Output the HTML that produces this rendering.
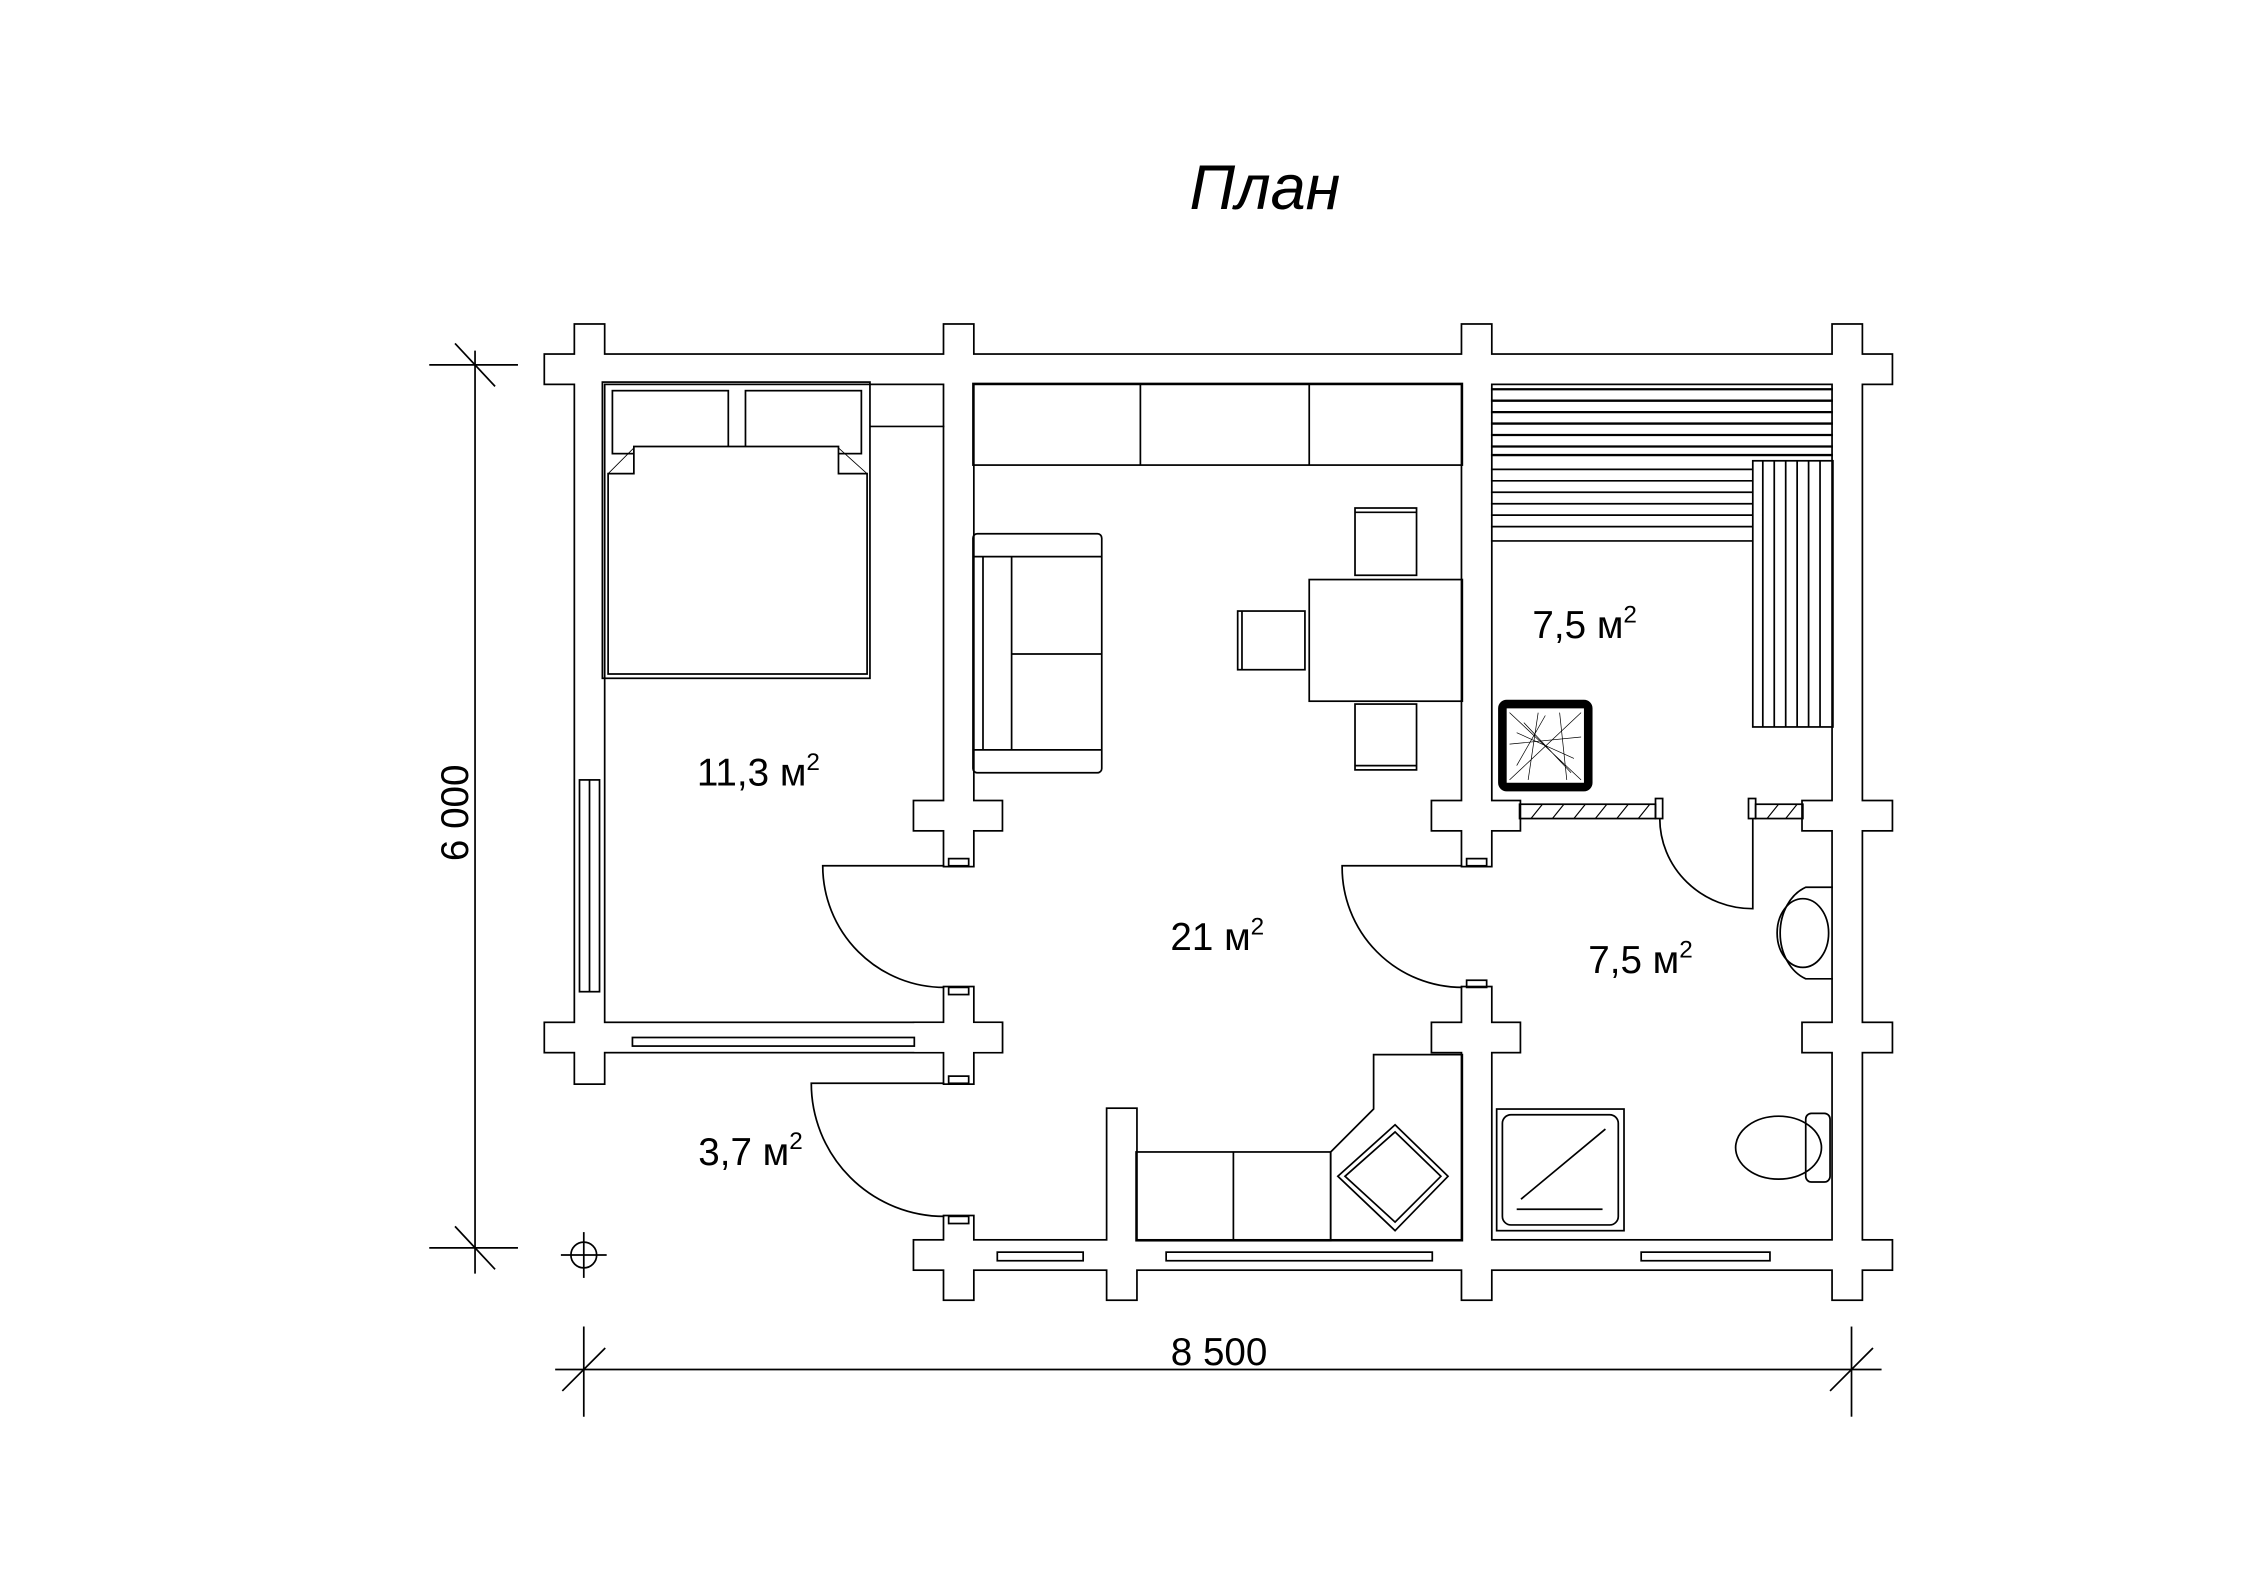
<!DOCTYPE html>
<html><head><meta charset="utf-8"><style>html,body{margin:0;padding:0;background:#fff}svg{display:block}</style></head>
<body>
<svg width="2245" height="1587" viewBox="0 0 1569 1109" preserveAspectRatio="none" xmlns="http://www.w3.org/2000/svg" font-family="Liberation Sans, sans-serif">
<rect width="1569" height="1109" fill="#fff"/>
<g id="walls">
<g fill="none" stroke="#000" stroke-width="2.4">
<rect x="381" y="248" width="941" height="20"/>
<rect x="402" y="227" width="20" height="530"/>
<rect x="381" y="715" width="319" height="20"/>
<rect x="660" y="227" width="20" height="378"/>
<rect x="639" y="560" width="61" height="20"/>
<rect x="660" y="690" width="20" height="67"/>
<rect x="639" y="715" width="61" height="20"/>
<rect x="660" y="850" width="20" height="58"/>
<rect x="639" y="867" width="683" height="20"/>
<rect x="774" y="775" width="20" height="133"/>
<rect x="1022" y="227" width="20" height="378"/>
<rect x="1001" y="560" width="61" height="20"/>
<rect x="1022" y="690" width="20" height="218"/>
<rect x="1001" y="715" width="61" height="20"/>
<rect x="1281" y="227" width="20" height="681"/>
<rect x="1260" y="560" width="62" height="20"/>
<rect x="1260" y="715" width="62" height="20"/>
</g>
<g fill="#fff">
<rect x="381" y="248" width="941" height="20"/>
<rect x="402" y="227" width="20" height="530"/>
<rect x="381" y="715" width="319" height="20"/>
<rect x="660" y="227" width="20" height="378"/>
<rect x="639" y="560" width="61" height="20"/>
<rect x="660" y="690" width="20" height="67"/>
<rect x="639" y="715" width="61" height="20"/>
<rect x="660" y="850" width="20" height="58"/>
<rect x="639" y="867" width="683" height="20"/>
<rect x="774" y="775" width="20" height="133"/>
<rect x="1022" y="227" width="20" height="378"/>
<rect x="1001" y="560" width="61" height="20"/>
<rect x="1022" y="690" width="20" height="218"/>
<rect x="1001" y="715" width="61" height="20"/>
<rect x="1281" y="227" width="20" height="681"/>
<rect x="1260" y="560" width="62" height="20"/>
<rect x="1260" y="715" width="62" height="20"/>
</g>
</g>
<g fill="none" stroke="#000" stroke-width="1.2">
<rect x="663" y="600" width="14" height="5"/><rect x="663" y="690" width="14" height="5"/>
<rect x="663" y="752" width="14" height="5"/><rect x="663" y="850" width="14" height="5"/>
<rect x="1025" y="600" width="14" height="5"/><rect x="1025" y="685" width="14" height="5"/>
<path d="M660 605 H575 A85 85 0 0 0 660 690"/>
<path d="M660 757 H567 A93 93 0 0 0 660 850"/>
<path d="M1022 605 H938 A84 84 0 0 0 1022 690"/>
<path d="M1225 572 V635 A65 63 0 0 1 1160 572"/>
<rect x="1062" y="562" width="95" height="10"/>
<rect x="1157" y="558" width="5" height="14"/>
<rect x="1222" y="558" width="5" height="14"/>
<rect x="1227" y="562" width="33" height="10"/>
<path d="M1070 572l8-10M1085 572l8-10M1100 572l8-10M1115 572l8-10M1130 572l8-10M1145 572l8-10M1235 572l8-10M1248 572l8-10" stroke-width="0.8"/>
<!-- bed -->
<rect x="421" y="267" width="187" height="207"/>
<rect x="428" y="273" width="81" height="44"/>
<rect x="521" y="273" width="81" height="44"/>
<path d="M443 312 H586 V331 H606 V471 H425 V331 H443 Z" fill="#fff"/>
<path d="M425 331 L443 313 M606 331 L586 313" stroke-width="0.6"/>
<path d="M608 298 H660"/>
<!-- kitchen cabinets -->
<rect x="680" y="268" width="342" height="57"/>
<line x1="797" y1="268" x2="797" y2="325"/><line x1="915" y1="268" x2="915" y2="325"/>
<rect x="680" y="373" width="90" height="167" rx="3"/>
<line x1="680" y1="389" x2="770" y2="389"/><line x1="680" y1="524" x2="770" y2="524"/>
<line x1="687" y1="389" x2="687" y2="524"/><line x1="707" y1="389" x2="707" y2="524"/>
<line x1="707" y1="457" x2="770" y2="457"/>
<rect x="915" y="405" width="107" height="85"/>
<rect x="947" y="355" width="43" height="47"/><line x1="947" y1="358" x2="990" y2="358"/>
<rect x="947" y="492" width="43" height="46"/><line x1="947" y1="535" x2="990" y2="535"/>
<rect x="865" y="427" width="47" height="41"/><line x1="868" y1="427" x2="868" y2="468"/>
<path d="M1042 272H1281M1042 280H1281M1042 288H1281M1042 296H1281M1042 304H1281M1042 312H1281M1042 318H1281" stroke-width="1.6"/>
<path d="M1042 328H1225M1042 336H1225M1042 344H1225M1042 352H1225M1042 360H1225M1042 368H1225M1042 378H1225"/>
<rect x="1225" y="322" width="56" height="186"/>
<path d="M1232 322V508M1240 322V508M1248 322V508M1256 322V508M1264 322V508M1272 322V508"/>
<rect x="1050" y="492" width="60" height="58" rx="3" stroke-width="6"/>
<path d="M1055 498 L1105 545 M1105 498 L1055 545 M1060 512 L1100 530 M1075 498 L1068 545 M1090 498 L1095 545 M1055 520 L1105 515 M1065 505 L1098 540 M1080 500 L1060 535" stroke-width="0.5"/>
<path d="M1281 620 H1262 A27 34 0 0 0 1262 684 H1281"/>
<ellipse cx="1260" cy="652" rx="18" ry="24"/>
<ellipse cx="1243" cy="802" rx="30" ry="22"/>
<rect x="1262" y="778" width="17" height="48" rx="4"/>
<rect x="1046" y="775" width="89" height="85"/>
<rect x="1050" y="779" width="81" height="77" rx="6"/>
<line x1="1063" y1="838" x2="1122" y2="789"/><line x1="1060" y1="845" x2="1120" y2="845"/>
<rect x="794" y="805" width="136" height="62"/><line x1="862" y1="805" x2="862" y2="867"/>
<path d="M930 805 L960 775 V737 H1022 V867 H930 Z"/>
<path d="M935 822 L975 786 L1012 822 L975 860 Z"/>
<path d="M940 822 L975 791 L1007 822 L975 854 Z"/>
<rect x="405" y="545" width="14" height="148"/><line x1="412" y1="545" x2="412" y2="693"/>
<rect x="442" y="725" width="197" height="6"/>
<rect x="697" y="875" width="60" height="6"/>
<rect x="815" y="875" width="186" height="6"/>
<rect x="1147" y="875" width="90" height="6"/>
<line x1="332" y1="245" x2="332" y2="890"/>
<line x1="300" y1="255" x2="362" y2="255"/><line x1="300" y1="872" x2="362" y2="872"/>
<line x1="318" y1="240" x2="346" y2="270"/><line x1="318" y1="857" x2="346" y2="887"/>
<line x1="388" y1="957" x2="1315" y2="957"/>
<line x1="408" y1="927" x2="408" y2="990"/><line x1="1294" y1="927" x2="1294" y2="990"/>
<line x1="393" y1="972" x2="423" y2="942"/><line x1="1279" y1="972" x2="1309" y2="942"/>
<circle cx="408" cy="877" r="9"/>
<line x1="392" y1="877" x2="424" y2="877"/><line x1="408" y1="861" x2="408" y2="893"/>
</g>
<g font-size="27" fill="#000">
<text x="884" y="146" font-size="44" font-style="italic" text-anchor="middle">План</text>
<text x="487" y="549">11,3 м<tspan font-size="17" dy="-11">2</tspan></text>
<text x="818" y="664">21 м<tspan font-size="17" dy="-11">2</tspan></text>
<text x="1071" y="446">7,5 м<tspan font-size="17" dy="-11">2</tspan></text>
<text x="1110" y="680">7,5 м<tspan font-size="17" dy="-11">2</tspan></text>
<text x="488" y="814">3,7 м<tspan font-size="17" dy="-11">2</tspan></text>
<text x="852" y="954" text-anchor="middle">8 500</text>
<text transform="translate(327,568) rotate(-90)" text-anchor="middle">6 000</text>
</g>
</svg>
</body></html>
